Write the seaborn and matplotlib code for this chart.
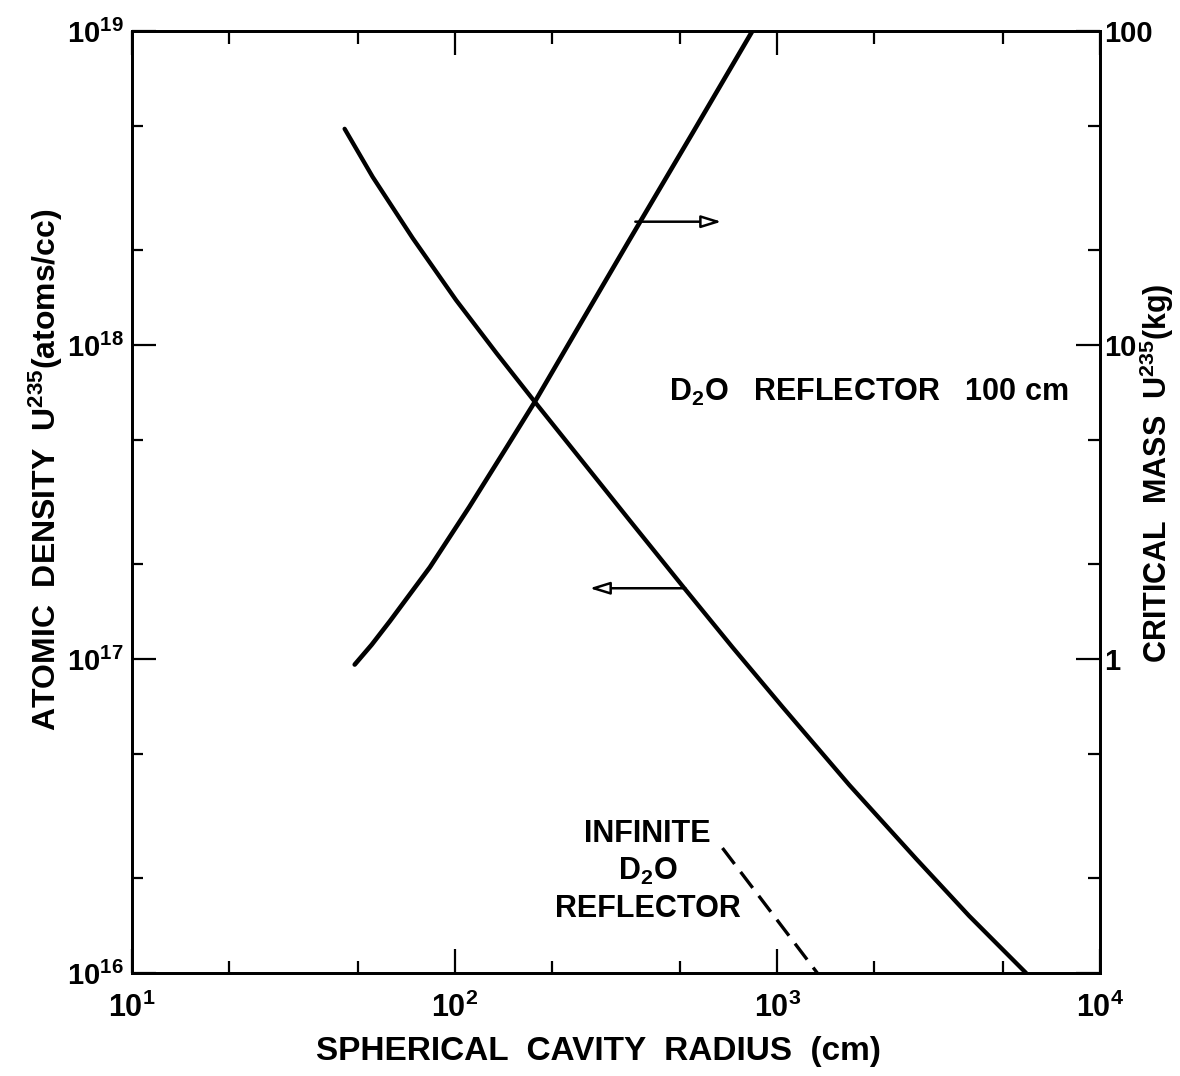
import numpy as np
import pandas as pd
import matplotlib
matplotlib.use("Agg")
import matplotlib.pyplot as plt
import matplotlib.ticker as mticker
from matplotlib import font_manager
import seaborn as sns

# ---------------- data ----------------
radius_density = [45.6, 55.7, 74.1, 101, 135, 177, 348, 515, 726, 1036, 1671, 2693, 3930, 5900]
density = [4.88e18, 3.43e18, 2.19e18, 1.39e18, 9.4e17, 6.6e17, 2.77e17, 1.68e17,
           1.09e17, 7.05e16, 3.97e16, 2.31e16, 1.52e16, 1.0e16]

radius_mass = [49.0, 55.3, 63, 83.8, 111, 145, 177, 249, 348, 546, 837]
mass = [0.96, 1.11, 1.32, 1.96, 3.05, 4.73, 6.58, 12.0, 21.6, 47.3, 100]

radius_infinite = [676, 1330]
density_infinite = [2.5e16, 1.0e16]

x_ticks = [10, 100, 1000, 10000]
x_ticklabels = ["10$^{1}$", "10$^{2}$", "10$^{3}$", "10$^{4}$"]
left_ticks = [1e16, 1e17, 1e18, 1e19]
left_ticklabels = ["10$^{16}$", "10$^{17}$", "10$^{18}$", "10$^{19}$"]
right_ticks = [0.1, 1, 10, 100]
right_ticklabels = ["", "1", "10", "100"]

# ---------------- style ----------------
sns.set_theme(style="ticks")
names = {f.name for f in font_manager.fontManager.ttflist}
fam = "Liberation Sans Narrow" if "Liberation Sans Narrow" in names else (
    "Liberation Sans" if "Liberation Sans" in names else "DejaVu Sans")
plt.rcParams["font.family"] = [fam, "DejaVu Sans"]
plt.rcParams["font.weight"] = "bold"
plt.rcParams["mathtext.fontset"] = "custom"
plt.rcParams["mathtext.rm"] = fam + ":bold"
plt.rcParams["mathtext.it"] = fam + ":bold"
plt.rcParams["mathtext.bf"] = fam + ":bold"
for k in ("text.color", "axes.labelcolor", "xtick.color", "ytick.color", "axes.edgecolor"):
    plt.rcParams[k] = "black"

fig = plt.figure(figsize=(11.8, 10.76), dpi=100)
ax = fig.add_axes([132 / 1180, 1 - 973 / 1076, 968 / 1180, 942 / 1076])
ax2 = ax.twinx()

df_d = pd.DataFrame({"r": radius_density, "n": density})
df_m = pd.DataFrame({"r": radius_mass, "m": mass})
df_i = pd.DataFrame({"r": radius_infinite, "n": density_infinite})

sns.lineplot(data=df_d, x="r", y="n", ax=ax, color="black", lw=3.1,
             sort=False, estimator=None)
sns.lineplot(data=df_i, x="r", y="n", ax=ax, color="black", lw=2.4,
             sort=False, estimator=None, dashes=False, linestyle=(0, (6, 3)))
sns.lineplot(data=df_m, x="r", y="m", ax=ax2, color="black", lw=3.3,
             sort=False, estimator=None)

for a in (ax, ax2):
    a.set_xscale("log")
    a.set_yscale("log")
    a.set_xlim(10, 1e4)
    for s in a.spines.values():
        s.set_visible(True)
        s.set_color("black")
        s.set_linewidth(2.0)
ax.set_ylim(1e16, 1e19)
ax2.set_ylim(0.1, 100)

# ticks
ax.xaxis.set_major_locator(mticker.FixedLocator(x_ticks))
ax.xaxis.set_major_formatter(mticker.FixedFormatter(x_ticklabels))
ax.xaxis.set_minor_locator(mticker.LogLocator(base=10, subs=(2, 5)))
ax.xaxis.set_minor_formatter(mticker.NullFormatter())
ax.yaxis.set_major_locator(mticker.FixedLocator(left_ticks))
ax.yaxis.set_major_formatter(mticker.FixedFormatter(left_ticklabels))
ax.yaxis.set_minor_locator(mticker.LogLocator(base=10, subs=(2, 5)))
ax.yaxis.set_minor_formatter(mticker.NullFormatter())
ax2.yaxis.set_major_locator(mticker.FixedLocator(right_ticks))
ax2.yaxis.set_major_formatter(mticker.FixedFormatter(right_ticklabels))
ax2.yaxis.set_minor_locator(mticker.LogLocator(base=10, subs=(2, 5)))
ax2.yaxis.set_minor_formatter(mticker.NullFormatter())

ax.tick_params(axis="x", which="both", direction="in", top=True, bottom=True,
               width=1.6, color="black")
ax.tick_params(axis="x", which="major", length=17, pad=14, labelsize=22)
ax.tick_params(axis="x", which="minor", length=9)
ax.tick_params(axis="y", which="both", direction="in", left=True, right=False,
               width=1.6, color="black")
ax.tick_params(axis="y", which="major", length=17, pad=6, labelsize=21)
ax.tick_params(axis="y", which="minor", length=8)
ax2.tick_params(axis="y", which="both", direction="in", right=True, left=False,
                width=1.6, color="black")
ax2.tick_params(axis="y", which="major", length=17, pad=3, labelsize=21)
ax2.tick_params(axis="y", which="minor", length=9)

# axis labels
ax.set_xlabel("SPHERICAL  CAVITY  RADIUS  (cm)", fontsize=24, fontweight="bold")
ax.xaxis.set_label_coords(0.482, -0.083)
ax.xaxis.label.set_va("center")
ax.set_ylabel("ATOMIC  DENSITY  U$^{235}$(atoms/cc)", fontsize=23, fontweight="bold")
ax.yaxis.set_label_coords(-0.089, 0.534)
ax.yaxis.label.set_va("center")
ax.yaxis.label.set_ha("center")
ax2.set_ylabel("CRITICAL  MASS  U$^{235}$(kg)", fontsize=22, fontweight="bold", rotation=90)
ax2.yaxis.set_label_coords(1.059, 0.53)
ax2.yaxis.label.set_va("center")
ax2.yaxis.label.set_ha("center")

# annotations
ax.text(1914, 7.08e17, "D$_2$O   REFLECTOR   100 cm", fontsize=22, fontweight="bold",
        ha="center", va="center")
ax.text(396, 2.11e16, "INFINITE\nD$_2$O\nREFLECTOR", fontsize=22, fontweight="bold",
        ha="center", va="center", linespacing=1.3, multialignment="center")

astyle = "-|>,head_length=0.55,head_width=0.17"
ax.annotate("", xy=(671, 2.47e18), xytext=(363, 2.47e18),
            arrowprops=dict(arrowstyle=astyle, lw=1.8, fc="white", ec="black",
                            mutation_scale=22, shrinkA=0, shrinkB=0))
ax.annotate("", xy=(262, 1.68e17), xytext=(519, 1.68e17),
            arrowprops=dict(arrowstyle=astyle, lw=1.8, fc="white", ec="black",
                            mutation_scale=22, shrinkA=0, shrinkB=0))

fig.savefig("out.png", dpi=100, facecolor="white")
